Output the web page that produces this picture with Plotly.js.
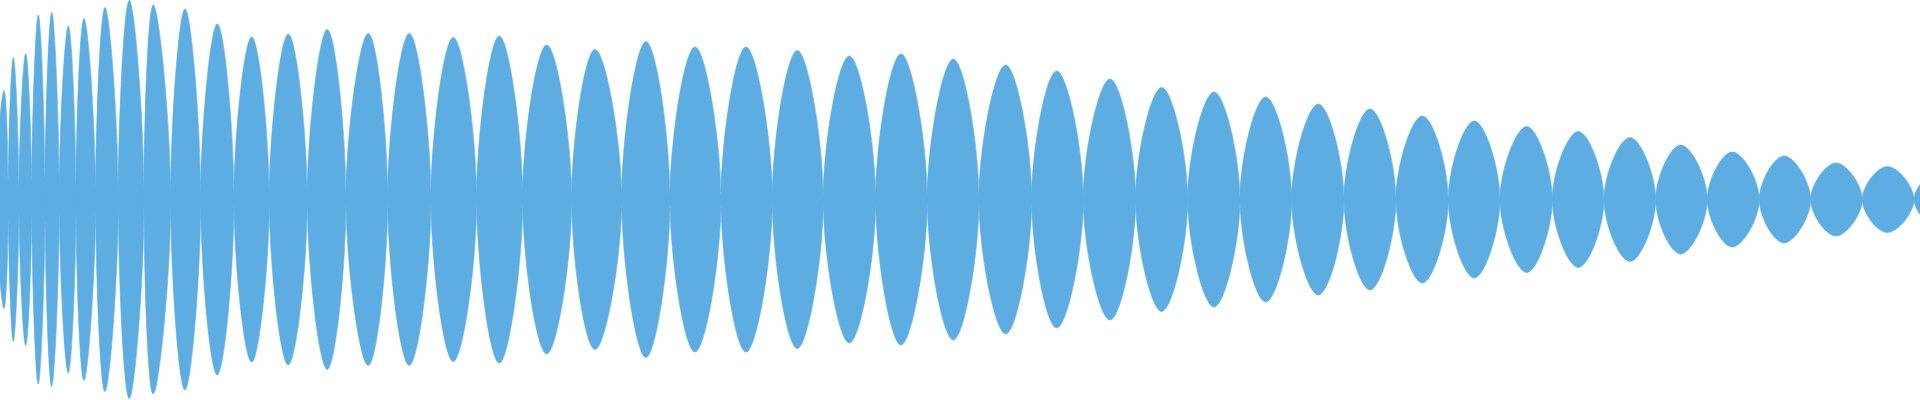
<!DOCTYPE html>
<html>
<head>
<meta charset="utf-8">
<script src="https://cdn.plot.ly/plotly-3.0.1.min.js"></script>
<style>html,body{margin:0;padding:0;background:#fff;}#chart{width:1920px;height:400px;}</style>
</head>
<body>
<div id="chart"></div>
<script>
// Envelope of the waveform
// Positions where the envelope narrows between lobes, and the half-height kept there
const neckX = [-4, 8.3, 19, 31.7, 45, 59.3, 76, 95.7, 118.3, 144, 170.7, 200.7, 234, 269.3, 307.3, 346, 387.7, 431, 476.7, 522.7, 571.7, 621.7, 670, 721, 772.3, 823.3, 875.7, 927.3, 979, 1031.7, 1083.3, 1135.7, 1187.7, 1240, 1291.7, 1344, 1396, 1448.3, 1500, 1552.3, 1604, 1655.7, 1707.3, 1759.3, 1810.7, 1862.3, 1914, 1965];
const neckH = [20, 20, 10, 17, 22, 13, 16, 13, 8, 8, 8, 7, 5, 5, 7, 6, 3, 3, 3, 3, 3, 3, 5, 5, 4, 3, 3, 3, 3, 3, 2, 2, 2, 2, 2, 2, 2, 1.5, 1.5, 1.5, 1, 1, 1, 1, 1, 1, 1, 1];
// Lobe peaks: position and amplitude
const peakX = [4, 13.3, 25.7, 38.3, 51.7, 68.3, 84, 105, 129.3, 153.3, 185, 217.3, 251.7, 288.3, 327.3, 368.3, 409.3, 453.3, 499.3, 546.7, 595, 646, 695, 746, 797.3, 849.3, 901, 953.3, 1005.7, 1056.7, 1110, 1161.7, 1214, 1265.7, 1318.3, 1370, 1422.3, 1474.3, 1526.7, 1578.3, 1630, 1680.7, 1732.3, 1784, 1836, 1887.3, 1939];
const peakA = [109, 142, 146, 184.5, 187, 173.5, 181, 192, 199, 194.5, 190.5, 175.5, 162.5, 165.5, 170, 166, 166, 162, 163.5, 154.5, 150, 158, 152.5, 152.5, 149, 143.5, 145.5, 140.5, 134.5, 128.5, 120.5, 112, 107.5, 102.5, 95.5, 90.5, 83.5, 78.5, 73, 68, 62, 54.5, 47.5, 43.5, 36.5, 33, 28];

const COLOR = '#5DADE2';

// Lobes: each lobe is one closed outline (left neck, top peak, right neck, bottom peak)
const lx = [], ly = [];
for (let i = 0; i < peakX.length; i++) {
  lx.push(neckX[i], peakX[i], neckX[i + 1], peakX[i], neckX[i], null);
  ly.push(0, peakA[i], 0, -peakA[i], 0, null);
}

// Narrow band joining the lobes along the centre line
const bx = neckX.concat(neckX.slice().reverse());
const by = neckH.concat(neckH.map(v => -v).reverse());

const data = [
  {
    type: 'scatter', mode: 'lines', x: bx, y: by,
    fill: 'toself', fillcolor: COLOR,
    line: {color: COLOR, width: 0.8},
    hoverinfo: 'skip', showlegend: false
  },
  {
    type: 'scatter', mode: 'lines', x: lx, y: ly,
    connectgaps: false,
    fill: 'toself', fillcolor: COLOR,
    line: {color: COLOR, width: 0.6, shape: 'spline', smoothing: 1.2},
    hoverinfo: 'skip', showlegend: false
  }
];

const layout = {
  width: 1920, height: 400,
  margin: {l: 0, r: 0, t: 0, b: 0, pad: 0},
  paper_bgcolor: '#ffffff', plot_bgcolor: '#ffffff',
  xaxis: {range: [0, 1920], visible: false, fixedrange: true},
  yaxis: {range: [-200.5, 199.5], visible: false, fixedrange: true},
  showlegend: false
};

Plotly.newPlot('chart', data, layout, {displayModeBar: false, staticPlot: true});
</script>
</body>
</html>
